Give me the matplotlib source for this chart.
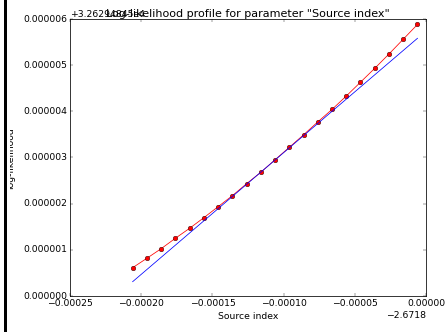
import matplotlib
matplotlib.use("Agg")
import matplotlib.pyplot as plt
from matplotlib.patches import Rectangle
from matplotlib.ticker import FuncFormatter, MultipleLocator

plt.style.use("classic")

# profile scan of the spectral index, shifted by its offsets
x_offset_label = "\u22122.6718"
y_offset_label = "+3.26294845e4"

src_index = [-0.000206, -0.000196, -0.000186, -0.000176, -0.000166, -0.000156,
             -0.000146, -0.000136, -0.000126, -0.000116, -0.000106, -0.000096,
             -0.000086, -0.000076, -0.000066, -0.000056, -0.000046, -0.000036,
             -0.000026, -0.000016, -0.000006]
loglike = [0.613e-6, 0.817e-6, 1.024e-6, 1.250e-6, 1.466e-6, 1.696e-6,
           1.934e-6, 2.172e-6, 2.432e-6, 2.679e-6, 2.950e-6, 3.220e-6,
           3.490e-6, 3.770e-6, 4.040e-6, 4.330e-6, 4.630e-6, 4.930e-6,
           5.240e-6, 5.560e-6, 5.880e-6]

# linear approximation through the scan
linear_x = [src_index[0], src_index[-1]]
linear_y = [0.31e-6, 5.58e-6]


def fmt(ndigits):
    def _f(v, pos):
        v = round(v, 10) + 0.0
        return ("%.*f" % (ndigits, v)).replace("-", "\u2212")
    return FuncFormatter(_f)


fig = plt.figure(figsize=(8.0, 5.97), dpi=55.625)
W, H = 445.0, 332.0
ax = fig.add_axes([70 / W, 1 - 296 / H, 356 / W, 277 / H])

ax.plot(src_index, loglike, "r-o")
ax.plot(linear_x, linear_y, "b-")

ax.set_xlim(-0.00025, 0)
ax.set_ylim(0, 0.000006)
ax.xaxis.set_major_locator(MultipleLocator(0.00005))
ax.yaxis.set_major_locator(MultipleLocator(0.000001))
ax.xaxis.set_major_formatter(fmt(5))
ax.yaxis.set_major_formatter(fmt(6))

ax.set_xlabel("Source index")
ax.set_title('Log-likelihood profile for parameter "Source index"', y=1.0, pad=2)

ax.text(0.0, 1.0 + 2 / 277, y_offset_label, transform=ax.transAxes,
        ha="left", va="baseline", fontsize=12)
ax.text(1.0, -15 / 277, x_offset_label, transform=ax.transAxes,
        ha="right", va="top", fontsize=12)

fig.text(15.5 / W, 1 - 158 / H, "log-likelihood", rotation=90,
         ha="right", va="center", fontsize=12)

# left border strip
fig.add_artist(Rectangle((0, 0), 9.5 / W, 1, transform=fig.transFigure,
                         facecolor="white", edgecolor="none", zorder=10))
fig.add_artist(Rectangle((4 / W, 0), 2.7 / W, 1, transform=fig.transFigure,
                         facecolor="black", edgecolor="none", zorder=11))

fig.savefig("out.png", dpi=55.625, facecolor="white")
